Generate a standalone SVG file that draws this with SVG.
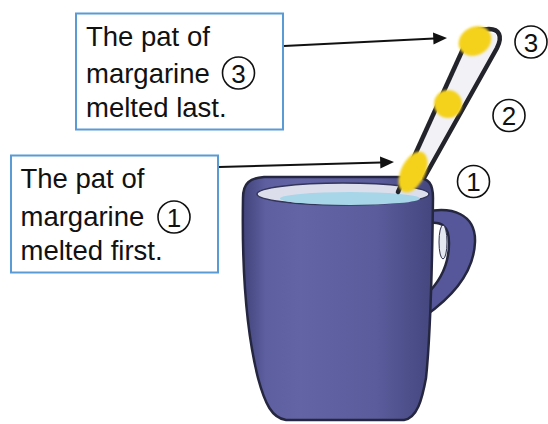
<svg xmlns="http://www.w3.org/2000/svg" width="548" height="424" viewBox="0 0 548 424">
  <defs>
    <style>
      .box { fill: #ffffff; stroke: #5a9bd6; stroke-width: 2; }
      .label { font-family: "Liberation Sans", Arial, sans-serif; font-size: 27.5px; fill: #111111; }
      .num { font-family: "Liberation Sans", Arial, sans-serif; font-size: 26px; fill: #111111; text-anchor: middle; }
      .ring { fill: none; stroke: #111111; stroke-width: 1.6; }
      .conn { stroke: #111111; stroke-width: 2; fill: none; }
      .head { fill: #111111; }
      .ink { stroke: #25263f; stroke-width: 2.5; stroke-linejoin: round; }
      .rail { stroke: #23232c; stroke-width: 4.5; stroke-linecap: round; fill: none; }
      .pat { fill: #f4d21c; filter: url(#soft); }
    </style>
    <linearGradient id="mugShade" x1="0" y1="0" x2="1" y2="0">
      <stop offset="0" stop-color="#41437a"/>
      <stop offset="0.12" stop-color="#5d5fa0"/>
      <stop offset="0.3" stop-color="#6264a6"/>
      <stop offset="0.7" stop-color="#5a5c9c"/>
      <stop offset="1" stop-color="#44467f"/>
    </linearGradient>
    <filter id="soft" x="-30%" y="-30%" width="160%" height="160%">
      <feGaussianBlur stdDeviation="1.3"/>
    </filter>
  </defs>

  <rect width="548" height="424" fill="#ffffff"/>

  <!-- mug with handle, rim and drink -->
  <g id="mug">
    <path class="ink" fill="#55579a" d="M 425 212 C 452 206 476 214 475 242 C 474 270 455 295 425 316 L 425 296 C 440 282 449 265 449 243 C 449 226 442 220 425 224 Z"/>
    <ellipse cx="443" cy="242" rx="4" ry="17" fill="#e4e6f0" stroke="#2c2d4a" stroke-width="1"/>
    <path class="ink" fill="url(#mugShade)" d="M 243 198 C 242 255 244 322 258 378 C 265 404 272 418 286 420 L 404 420 C 417 418 422 400 426 378 C 430 340 432 280 433 198 C 433 184 429 178 416 177 L 264 177 C 250 178 243 183 243 198 Z"/>
    <ellipse cx="343" cy="194" rx="86" ry="11" fill="#dcdfeb" stroke="#34355a" stroke-width="1.5"/>
    <ellipse cx="350" cy="198.5" rx="70" ry="6.5" fill="#a6d6e7"/>
  </g>

  <!-- stirring stick with three pats of margarine -->
  <g id="stick">
    <polygon fill="#f1f1f6" points="400,190 463,50 480,30 496,34 498,48 424,178"/>
    <path class="rail" d="M 398 192 L 463 49"/>
    <path class="rail" d="M 424 178 L 497 48 C 503 36 499 29 489 29 L 478 30"/>
    <ellipse class="pat" cx="413" cy="172" rx="22" ry="12" transform="rotate(-64 413 172)"/>
    <ellipse class="pat" cx="448" cy="104" rx="14" ry="14"/>
    <ellipse class="pat" cx="475" cy="41" rx="17" ry="14" transform="rotate(-30 475 41)"/>
  </g>

  <!-- position markers beside the stick -->
  <g id="marker-3">
    <circle class="ring" cx="531" cy="42" r="16"/>
    <text class="num" x="531" y="51.5">3</text>
  </g>
  <g id="marker-2">
    <circle class="ring" cx="509" cy="115.5" r="16"/>
    <text class="num" x="509" y="125">2</text>
  </g>
  <g id="marker-1">
    <circle class="ring" cx="473.5" cy="181.5" r="16"/>
    <text class="num" x="473.5" y="191">1</text>
  </g>

  <!-- callout: last pat -->
  <g id="box-last">
    <rect class="box" x="76" y="13.5" width="207" height="116"/>
    <text class="label" x="86" y="45.7">The pat of</text>
    <text class="label" x="86" y="83.3">margarine</text>
    <text class="label" x="86" y="117.3">melted last.</text>
    <circle class="ring" cx="238.5" cy="73" r="16"/>
    <text class="num" x="238.5" y="82.5">3</text>
  </g>

  <!-- callout: first pat -->
  <g id="box-first">
    <rect class="box" x="11" y="155.5" width="207" height="117"/>
    <text class="label" x="20.5" y="188.3">The pat of</text>
    <text class="label" x="20.5" y="225.7">margarine</text>
    <text class="label" x="20.5" y="260">melted first.</text>
    <circle class="ring" cx="174" cy="217" r="16"/>
    <text class="num" x="174" y="226.5">1</text>
  </g>

  <!-- connectors -->
  <g id="connectors">
    <line class="conn" x1="284" y1="46" x2="434" y2="38.6"/>
    <polygon class="head" points="447,38 433,32.5 433.5,44.5"/>
    <line class="conn" x1="219" y1="167" x2="381" y2="162.4"/>
    <polygon class="head" points="394,162 380,156.4 380.4,168.4"/>
  </g>
</svg>
